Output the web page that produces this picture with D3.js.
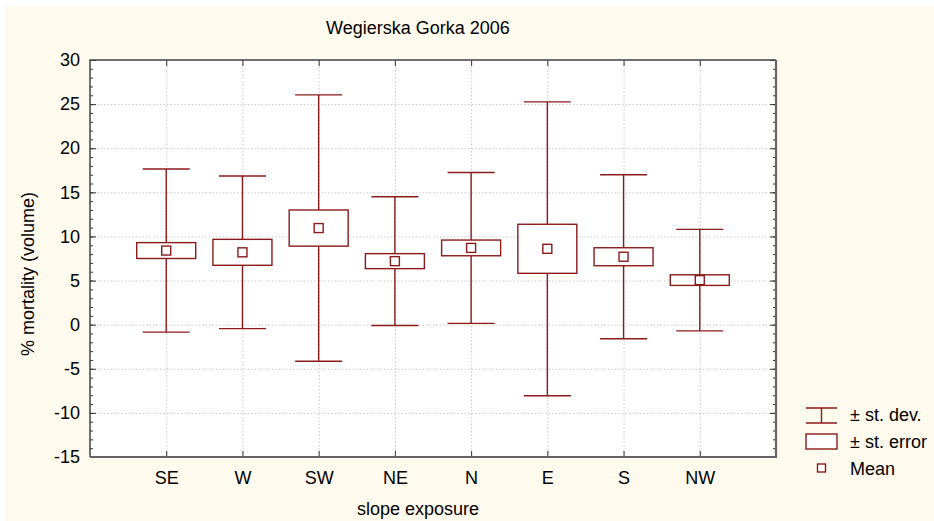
<!DOCTYPE html>
<html>
<head>
<meta charset="utf-8">
<script src="https://cdn.jsdelivr.net/npm/d3@7"></script>
<style>
  body { margin: 0; background: #fff; }
  svg { display: block; font-family: Arial, "Liberation Sans", sans-serif; }
  .grid line { stroke: #c8c8c8; stroke-dasharray: 1.5, 2; }
  .grid .domain { display: none; }
</style>
</head>
<body>
<svg id="chart" width="934" height="521"></svg>
<script>
// data
var categories = ["SE", "W", "SW", "NE", "N", "E", "S", "NW"];
var means = [8.4, 8.2, 10.95, 7.2, 8.7, 8.6, 7.7, 5.05];
var sds   = [9.25, 8.65, 15.1, 7.3, 8.55, 16.65, 9.3, 5.75];
var ses   = [0.9, 1.47, 2.05, 0.85, 0.89, 2.78, 1.02, 0.6];
var yTicks = [-15, -10, -5, 0, 5, 10, 15, 20, 25, 30];

var width = 934, height = 521
var margin = {top: 60, left: 90, bottom: 64, right: 158}
var red = "#8b1a1a"
var fs = 18
var font = "Arial, 'Liberation Sans', sans-serif"

var svg = d3.select("#chart")
svg.append("rect")
  .attr("x", 5).attr("y", 6)
  .attr("width", width - 5).attr("height", height - 6)
  .attr("fill", "#fffaee")

var xScale = d3.scalePoint().domain(categories)
  .range([margin.left, width - margin.right]).padding(1)
var yScale = d3.scaleLinear().domain([-15, 30])
  .range([height - margin.bottom, margin.top])

var x0 = margin.left, x1 = width - margin.right
var y0 = margin.top, y1 = height - margin.bottom

// plot area
svg.append("rect")
  .attr("x", x0).attr("y", y0)
  .attr("width", x1 - x0).attr("height", y1 - y0)
  .attr("fill", "#fff")

// grid
svg.append("g").attr("class", "grid")
  .attr("transform", "translate(" + x0 + ",0)")
  .call(d3.axisLeft(yScale).tickValues(yTicks.slice(1, -1)).tickSize(-(x1 - x0)).tickFormat(""))
svg.append("g").attr("class", "grid")
  .attr("transform", "translate(0," + y1 + ")")
  .call(d3.axisBottom(xScale).tickSize(-(y1 - y0)).tickFormat(""))

// minor ticks
var minor = d3.range(-15, 31, 1)
svg.append("g")
  .attr("transform", "translate(" + x0 + ",0)")
  .call(d3.axisRight(yScale).tickValues(minor).tickSize(3).tickFormat(""))
  .call(function(g) { g.select(".domain").remove(); g.selectAll("line").attr("stroke", "#333") })
svg.append("g")
  .attr("transform", "translate(" + x1 + ",0)")
  .call(d3.axisLeft(yScale).tickValues(minor).tickSize(3).tickFormat(""))
  .call(function(g) { g.select(".domain").remove(); g.selectAll("line").attr("stroke", "#333") })

// major ticks on all four sides
var yLeft = svg.append("g")
  .attr("transform", "translate(" + x0 + ",0)")
  .call(d3.axisLeft(yScale).tickValues(yTicks).tickSizeInner(-6).tickSizeOuter(0).tickPadding(10)
    .tickFormat(function(d) { return String(d) }))
yLeft.select(".domain").remove()
yLeft.selectAll("line").attr("stroke", "#333")
yLeft.selectAll("text").attr("font-size", fs).attr("fill", "#000").attr("font-family", font)

svg.append("g")
  .attr("transform", "translate(" + x1 + ",0)")
  .call(d3.axisRight(yScale).tickValues(yTicks).tickSize(-6).tickFormat(""))
  .call(function(g) { g.select(".domain").remove(); g.selectAll("line").attr("stroke", "#333") })

var xBottom = svg.append("g")
  .attr("transform", "translate(0," + y1 + ")")
  .call(d3.axisBottom(xScale).tickSizeInner(-6).tickSizeOuter(0).tickPadding(14))
xBottom.select(".domain").remove()
xBottom.selectAll("line").attr("stroke", "#333")
xBottom.selectAll("text").attr("font-size", fs).attr("fill", "#000").attr("font-family", font)

svg.append("g")
  .attr("transform", "translate(0," + y0 + ")")
  .call(d3.axisTop(xScale).tickSize(-6).tickFormat(""))
  .call(function(g) { g.select(".domain").remove(); g.selectAll("line").attr("stroke", "#333") })

// frame
svg.append("path")
  .attr("d", "M" + x0 + "," + y1 + "V" + y0 + "H" + x1)
  .attr("fill", "none").attr("stroke", "#444").attr("stroke-width", 1.5)
svg.append("path")
  .attr("d", "M" + x0 + "," + y1 + "H" + x1 + "V" + y0)
  .attr("fill", "none").attr("stroke", "#666").attr("stroke-width", 2.2)

// whiskers (± st. dev.)
var capW = 47, boxW = 59, mk = 9
var g = svg.append("g")
var items = g.selectAll(".item").data(categories).enter().append("g")
items.append("line")
  .attr("x1", function(d) { return xScale(d) }).attr("x2", function(d) { return xScale(d) })
  .attr("y1", function(d, i) { return yScale(means[i] + sds[i]) })
  .attr("y2", function(d, i) { return yScale(means[i] - sds[i]) })
  .attr("stroke", red).attr("stroke-width", 1.4)
items.append("line")
  .attr("x1", function(d) { return xScale(d) - capW / 2 }).attr("x2", function(d) { return xScale(d) + capW / 2 })
  .attr("y1", function(d, i) { return yScale(means[i] + sds[i]) })
  .attr("y2", function(d, i) { return yScale(means[i] + sds[i]) })
  .attr("stroke", red).attr("stroke-width", 1.4)
items.append("line")
  .attr("x1", function(d) { return xScale(d) - capW / 2 }).attr("x2", function(d) { return xScale(d) + capW / 2 })
  .attr("y1", function(d, i) { return yScale(means[i] - sds[i]) })
  .attr("y2", function(d, i) { return yScale(means[i] - sds[i]) })
  .attr("stroke", red).attr("stroke-width", 1.4)
// boxes (± st. error)
items.append("rect")
  .attr("x", function(d) { return xScale(d) - boxW / 2 })
  .attr("y", function(d, i) { return yScale(means[i] + ses[i]) })
  .attr("width", boxW)
  .attr("height", function(d, i) { return yScale(means[i] - ses[i]) - yScale(means[i] + ses[i]) })
  .attr("fill", "#fff").attr("stroke", red).attr("stroke-width", 1.4)
// mean markers
items.append("rect")
  .attr("x", function(d) { return xScale(d) - mk / 2 })
  .attr("y", function(d, i) { return yScale(means[i]) - mk / 2 })
  .attr("width", mk).attr("height", mk)
  .attr("fill", "#fff").attr("stroke", red).attr("stroke-width", 1.4)

// titles
svg.append("text")
  .attr("x", 418).attr("y", 34)
  .attr("text-anchor", "middle").attr("font-size", fs)
  .text("Wegierska Gorka 2006")
svg.append("text")
  .attr("x", 418).attr("y", 515)
  .attr("text-anchor", "middle").attr("font-size", fs)
  .text("slope exposure")
svg.append("text")
  .attr("transform", "translate(" + 34 + "," + 274 + ")rotate(-90)")
  .attr("text-anchor", "middle").attr("font-size", fs)
  .text("% mortality (volume)")

// legend
var lx = 806, lw = 31
var legend = svg.append("g")
legend.append("path")
  .attr("d", "M" + lx + ",408H" + (lx + lw) + "M" + (lx + lw / 2) + ",408V423M" + lx + ",423H" + (lx + lw))
  .attr("fill", "none").attr("stroke", red).attr("stroke-width", 1.4)
legend.append("rect")
  .attr("x", lx).attr("y", 434).attr("width", lw).attr("height", 15)
  .attr("fill", "#fff").attr("stroke", red).attr("stroke-width", 1.4)
legend.append("rect")
  .attr("x", lx + lw / 2 - 4).attr("y", 464).attr("width", 8).attr("height", 8)
  .attr("fill", "#fff").attr("stroke", red).attr("stroke-width", 1.4)
var labels = ["± st. dev.", "± st. error", "Mean"]
legend.selectAll(".lab").data(labels).enter().append("text")
  .attr("x", 850).attr("y", function(d, i) { return 421 + i * 27 })
  .attr("font-size", fs)
  .text(function(d) { return d })
</script>
</body>
</html>
